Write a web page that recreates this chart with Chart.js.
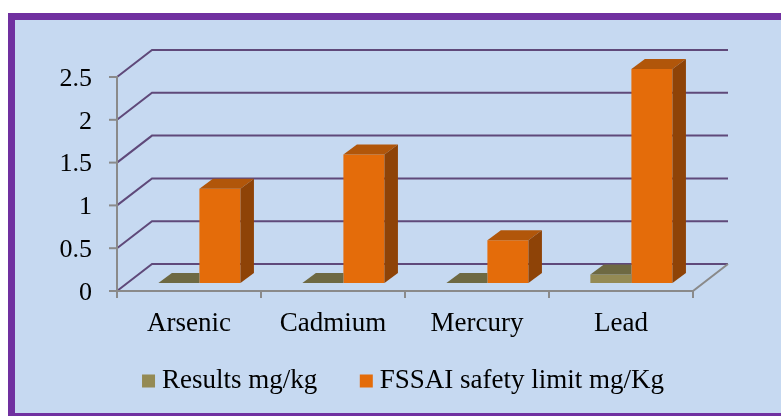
<!DOCTYPE html>
<html>
<head>
<meta charset="utf-8">
<script src="https://cdn.jsdelivr.net/npm/chart.js@4.4.0/dist/chart.umd.min.js"></script>
<style>
  html, body { margin: 0; padding: 0; background: #ffffff; }
  #wrap { width: 781px; height: 416px; }
</style>
</head>
<body>
<div id="wrap"><canvas id="chart" width="781" height="416"></canvas></div>
<script>
// Heavy metal content against FSSAI limits
const categories = ['Arsenic', 'Cadmium', 'Mercury', 'Lead'];
const resultsMgKg = [0, 0, 0, 0.1];
const fssaiLimitMgKg = [1.1, 1.5, 0.5, 2.5];
const seriesNames = ['Results mg/kg', 'FSSAI safety limit mg/Kg'];
const yTickValues = [0, 0.5, 1, 1.5, 2, 2.5];
const yTickLabels = ['0', '0.5', '1', '1.5', '2', '2.5'];

// Pseudo-3D geometry (pixels)
const WALL = { dx: 35, dy: -27 };        // depth of the floor / side wall
const BAR_SHIFT = { dx: 10.4, dy: -8 };  // bars stand halfway into the floor
const BAR_DEPTH = { dx: 13.5, dy: -10 }; // thickness of each column

const SERIF = "'Liberation Serif', 'Times New Roman', serif";
const GRID_PURPLE = '#5F497A';
const AXIS_GREY = '#8A8A8A';

// Purple framed panel behind everything
const framePlugin = {
  id: 'framePanel',
  beforeDraw(chart) {
    const ctx = chart.ctx;
    ctx.save();
    ctx.fillStyle = '#ffffff';
    ctx.fillRect(0, 0, chart.width, chart.height);
    ctx.fillStyle = '#C6D9F1';
    ctx.fillRect(11.5, 16.5, chart.width, chart.height);
    ctx.strokeStyle = '#7030A0';
    ctx.lineWidth = 7;
    ctx.strokeRect(11.5, 16.5, chart.width + 20, 400);
    ctx.restore();
  }
};

// Let the category labels hang below the axis box without being clipped
const labelRoomPlugin = {
  id: 'labelRoom',
  afterLayout(chart) {
    chart.scales.x.bottom = chart.height;
  }
};

// Side wall, back wall gridlines, floor and axes
const wallsPlugin = {
  id: 'walls3d',
  beforeDatasetsDraw(chart) {
    const { ctx, chartArea: a, scales: { x, y } } = chart;
    const base = y.getPixelForValue(0);
    ctx.save();
    ctx.lineWidth = 2;
    ctx.lineCap = 'butt';

    ctx.strokeStyle = GRID_PURPLE;
    y.ticks.forEach(t => {
      const py = y.getPixelForValue(t.value);
      ctx.beginPath();
      ctx.moveTo(a.left, py);
      ctx.lineTo(a.left + WALL.dx, py + WALL.dy);
      ctx.lineTo(a.right + WALL.dx, py + WALL.dy);
      ctx.stroke();
    });

    ctx.strokeStyle = AXIS_GREY;
    // floor front and right edges
    ctx.beginPath();
    ctx.moveTo(a.left, base);
    ctx.lineTo(a.right, base);
    ctx.lineTo(a.right + WALL.dx, base + WALL.dy);
    ctx.stroke();
    // value axis
    ctx.beginPath();
    ctx.moveTo(a.left, y.getPixelForValue(y.max) - 1);
    ctx.lineTo(a.left, base + 7);
    ctx.stroke();
    y.ticks.forEach(t => {
      const py = y.getPixelForValue(t.value);
      ctx.beginPath();
      ctx.moveTo(a.left - 8, py);
      ctx.lineTo(a.left, py);
      ctx.stroke();
    });
    // category separators
    const n = x.ticks.length;
    for (let i = 0; i <= n; i++) {
      const px = x.left + i * (x.width / n);
      ctx.beginPath();
      ctx.moveTo(px, base);
      ctx.lineTo(px, base + 7);
      ctx.stroke();
    }
    ctx.restore();
  }
};

// Columns: shifted into the floor, with top and side faces.
// A column's faces are hidden where the next (taller) column of its group stands.
const columnsPlugin = {
  id: 'columns3d',
  beforeDatasetsDraw(chart) {
    chart.ctx.save();
    chart.ctx.translate(BAR_SHIFT.dx, BAR_SHIFT.dy);
  },
  afterDatasetDraw(chart, args) {
    const ctx = chart.ctx;
    const ds = chart.data.datasets[args.index];
    const nextMeta = chart.getDatasetMeta(args.index + 1);
    args.meta.data.forEach((bar, j) => {
      const { x, y, base, width } = bar.getProps(['x', 'y', 'base', 'width'], true);
      const l = x - width / 2, r = x + width / 2;
      ctx.save();
      const nb = nextMeta && nextMeta.data ? nextMeta.data[j] : null;
      if (nb) {
        const p = nb.getProps(['x', 'y', 'width'], true);
        if (p.y <= y) {
          ctx.beginPath();
          ctx.rect(0, 0, p.x - p.width / 2, chart.height);
          ctx.clip();
        }
      }
      ctx.fillStyle = ds.topColor;
      ctx.beginPath();
      ctx.moveTo(l, y);
      ctx.lineTo(r, y);
      ctx.lineTo(r + BAR_DEPTH.dx, y + BAR_DEPTH.dy);
      ctx.lineTo(l + BAR_DEPTH.dx, y + BAR_DEPTH.dy);
      ctx.closePath();
      ctx.fill();
      ctx.fillStyle = ds.sideColor;
      ctx.beginPath();
      ctx.moveTo(r, y);
      ctx.lineTo(r + BAR_DEPTH.dx, y + BAR_DEPTH.dy);
      ctx.lineTo(r + BAR_DEPTH.dx, base + BAR_DEPTH.dy);
      ctx.lineTo(r, base);
      ctx.closePath();
      ctx.fill();
      ctx.restore();
    });
  },
  afterDatasetsDraw(chart) {
    chart.ctx.restore();
  }
};

new Chart(document.getElementById('chart'), {
  type: 'bar',
  data: {
    labels: categories,
    datasets: [
      {
        label: seriesNames[0],
        data: resultsMgKg,
        backgroundColor: '#948A54',
        topColor: '#6E6942',
        sideColor: '#5A5634',
        clip: false
      },
      {
        label: seriesNames[1],
        data: fssaiLimitMgKg,
        backgroundColor: '#E46C0A',
        topColor: '#B1560A',
        sideColor: '#8E4307',
        clip: false
      }
    ]
  },
  options: {
    responsive: false,
    devicePixelRatio: 1,
    animation: false,
    events: [],
    layout: { padding: { top: 77, left: 31.6, right: 0, bottom: 11.5 } },
    datasets: { bar: { categoryPercentage: 0.57, barPercentage: 1, borderWidth: 0 } },
    scales: {
      x: {
        grid: { display: false, drawTicks: false },
        border: { display: false },
        ticks: {
          color: '#000000',
          font: { family: SERIF, size: 27 },
          padding: 17,
          autoSkip: false,
          maxRotation: 0
        },
        afterFit(scale) { scale.height = 27.5; }
      },
      y: {
        min: 0,
        max: 2.5,
        afterBuildTicks(scale) { scale.ticks = yTickValues.map(v => ({ value: v })); },
        grid: { display: false, drawTicks: false },
        border: { display: false },
        ticks: {
          color: '#000000',
          font: { family: SERIF, size: 26 },
          padding: 25,
          labelOffset: 2,
          callback: (value, i) => yTickLabels[i]
        },
        afterFit(scale) { scale.width = 85.4; }
      },
      rightGutter: {
        type: 'linear',
        position: 'right',
        display: true,
        grid: { display: false, drawTicks: false },
        border: { display: false },
        ticks: { display: false },
        afterFit(scale) { scale.width = 88; }
      }
    },
    plugins: {
      tooltip: { enabled: false },
      legend: {
        position: 'bottom',
        labels: {
          color: '#000000',
          font: { family: SERIF, size: 27 },
          usePointStyle: true,
          pointStyle: 'rect',
          boxWidth: 0.01,
          boxHeight: 13,
          padding: 49
        }
      }
    }
  },
  plugins: [framePlugin, labelRoomPlugin, wallsPlugin, columnsPlugin]
});
</script>
</body>
</html>
